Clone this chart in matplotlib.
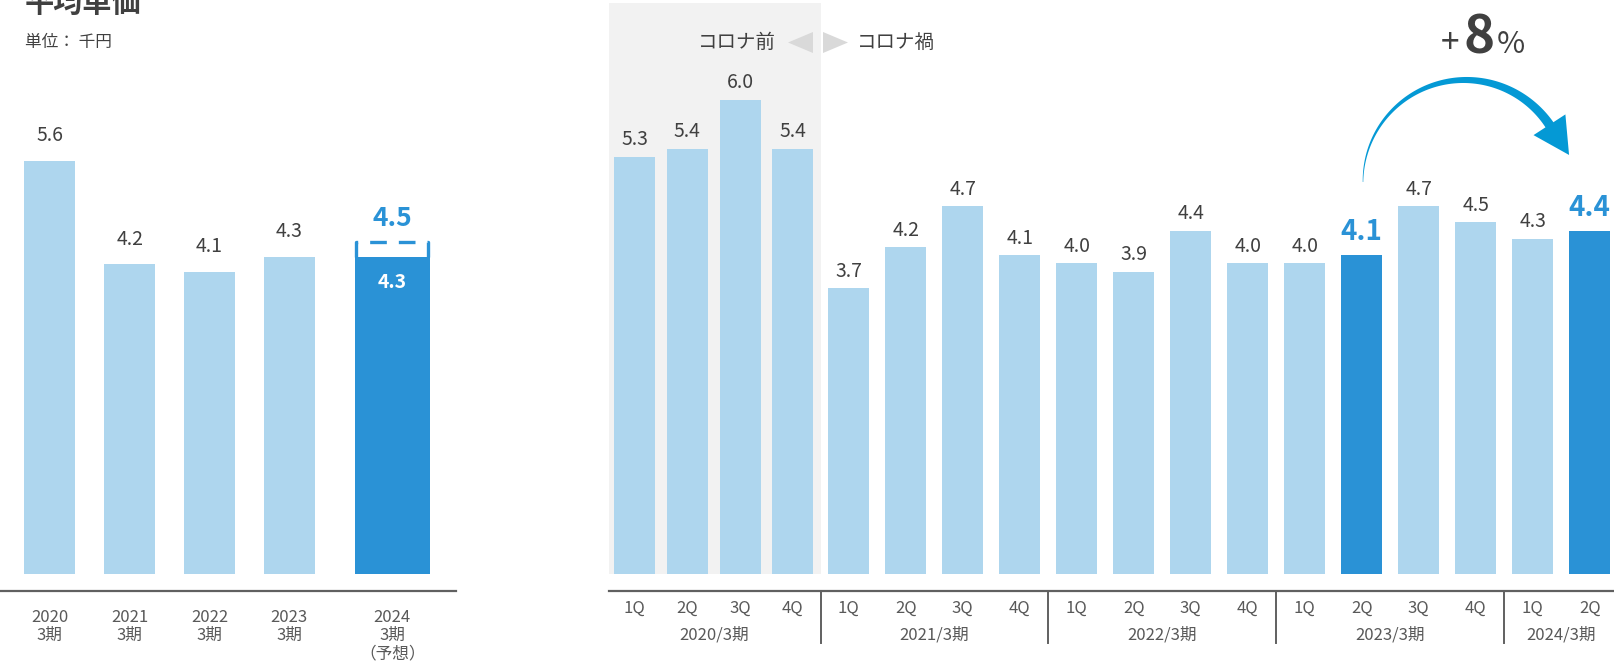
import matplotlib
matplotlib.use("Agg")
import matplotlib.pyplot as plt
from matplotlib.patches import Rectangle, Polygon
from matplotlib.transforms import blended_transform_factory
import numpy as np

# ---------------- data ----------------
left_categories = ["2020\n3期", "2021\n3期", "2022\n3期", "2023\n3期", "2024\n3期\n（予想）"]
left_values = [5.6, 4.2, 4.1, 4.3, 4.3]
left_forecast = 4.5

quarter_labels = ["1Q", "2Q", "3Q", "4Q"] * 4 + ["1Q", "2Q"]
fiscal_years = ["2020/3期", "2021/3期", "2022/3期", "2023/3期", "2024/3期"]
right_values = [5.3, 5.4, 6.0, 5.4,
                3.7, 4.2, 4.7, 4.1,
                4.0, 3.9, 4.4, 4.0,
                4.0, 4.1, 4.7, 4.5,
                4.3, 4.4]
right_highlight = [13, 17]

title = "平均単価"
unit_text = "単位： 千円"
pre_label = "コロナ前"
post_label = "コロナ禍"
growth_parts = ["+", "8", "%"]

# ---------------- style ----------------
plt.rcParams['font.family'] = ['Noto Sans CJK JP', 'DejaVu Sans']
LIGHT = '#aed6ee'
DARK = '#2a92d6'
TXT = '#404040'
TICK = '#595959'
AXC = '#606060'

W, H = 1614, 663
fig = plt.figure(figsize=(W / 100, H / 100), dpi=100)


def fig_rect(x0, y0, x1, y1):
    return [x0 / W, 1 - y1 / H, (x1 - x0) / W, (y1 - y0) / H]


AXIS_Y = 591
BASE_Y = 574

# ---------------- left chart ----------------
L_UNIT, L_X0, L_SCALE = 79.8, 49.9, 73.7
axL = fig.add_axes(fig_rect(0, 0, 456, AXIS_Y))
axL.set_xlim(-L_X0 / L_UNIT, (456 - L_X0) / L_UNIT)
axL.set_ylim(-(AXIS_Y - BASE_Y) / L_SCALE, BASE_Y / L_SCALE)
axL.patch.set_alpha(0)

n_left = len(left_values)
left_pos = [float(i) for i in range(n_left - 1)] + [n_left - 1 + 0.29]
left_w = [0.64] * (n_left - 1) + [0.94]
left_col = [LIGHT] * (n_left - 1) + [DARK]
axL.bar(left_pos, left_values, width=left_w, color=left_col, zorder=2)

for i in range(n_left - 1):
    axL.annotate(f"{left_values[i]:.1f}", (left_pos[i], left_values[i]),
                 xytext=(0, 18.3), textcoords='offset points',
                 ha='center', va='center', fontsize=14, color=TXT)

# forecast (last bar)
xl = left_pos[-1] - left_w[-1] / 2 + 0.02
xr = left_pos[-1] + left_w[-1] / 2 - 0.02
axL.plot([xl, xl, xr, xr], [left_values[-1], left_forecast, left_forecast, left_values[-1]],
         color=DARK, lw=2.4, ls=(0, (5.0, 3.6)), solid_capstyle='butt',
         dash_capstyle='butt', zorder=3, clip_on=False)
axL.annotate(f"{left_forecast:.1f}", (left_pos[-1], left_forecast),
             xytext=(0, 17.5), textcoords='offset points',
             ha='center', va='center', fontsize=19, color=DARK, fontweight='bold')
axL.annotate(f"{left_values[-1]:.1f}", (left_pos[-1], left_values[-1]),
             xytext=(0, -18), textcoords='offset points',
             ha='center', va='center', fontsize=14, color='white', fontweight='bold')

for s in ['top', 'right', 'left']:
    axL.spines[s].set_visible(False)
axL.spines['bottom'].set_color(AXC)
axL.spines['bottom'].set_linewidth(1.6)
axL.set_xticks([])
axL.set_yticks([])

tL = blended_transform_factory(axL.transData, fig.transFigure)
for i, cat in enumerate(left_categories):
    for k, line in enumerate(cat.split("\n")):
        axL.text(left_pos[i], 1 - (617 + 18.5 * k) / H, line, transform=tL,
                 ha='center', va='center', fontsize=12, color=TICK)

# ---------------- right chart ----------------
# value axis starts at the axis line; bars leave a small white band above it
R_UNIT, R_X0, R_SCALE = 57.0, 634.6, 81.9
GAP = (AXIS_Y - BASE_Y) / R_SCALE
axR = fig.add_axes(fig_rect(609, 0, W, AXIS_Y))
axR.set_xlim((609 - R_X0) / R_UNIT, (W - R_X0) / R_UNIT)
axR.set_ylim(0, AXIS_Y / R_SCALE)
axR.patch.set_alpha(0)

n_right = len(right_values)
right_pos = [i * 0.925 if i < 4 else 3.756 + (i - 4) for i in range(n_right)]
right_col = [DARK if i in right_highlight else LIGHT for i in range(n_right)]
right_arr = np.array(right_values)

# pre-covid shaded region
sep_first = (right_pos[3] + right_pos[4]) / 2
x_left = axR.get_xlim()[0]
axR.add_patch(Rectangle((x_left, GAP), sep_first - x_left, (AXIS_Y - 3) / R_SCALE - GAP,
                        facecolor='#f2f2f2', edgecolor='none', zorder=0, clip_on=False))

axR.bar(right_pos, right_arr - GAP, bottom=GAP, width=0.72, color=right_col, zorder=2)

for i, v in enumerate(right_values):
    if i in right_highlight:
        axR.annotate(f"{v:.1f}", (right_pos[i], v), xytext=(0, 16.5),
                     textcoords='offset points', ha='center', va='center',
                     fontsize=20, color=DARK, fontweight='bold')
    else:
        axR.annotate(f"{v:.1f}", (right_pos[i], v), xytext=(0, 12.2),
                     textcoords='offset points', ha='center', va='center',
                     fontsize=14, color=TXT)

for s in ['top', 'right', 'left']:
    axR.spines[s].set_visible(False)
axR.spines['bottom'].set_color(AXC)
axR.spines['bottom'].set_linewidth(1.6)
axR.set_xticks([])
axR.set_yticks([])

tR = blended_transform_factory(axR.transData, fig.transFigure)
for i, q in enumerate(quarter_labels):
    axR.text(right_pos[i], 1 - 608 / H, q, transform=tR,
             ha='center', va='center', fontsize=12, color=TICK)

groups = [list(range(g * 4, min(g * 4 + 4, n_right))) for g in range(len(fiscal_years))]
for g, idx in enumerate(groups):
    center = np.mean([right_pos[i] for i in idx])
    axR.text(center, 1 - 635 / H, fiscal_years[g], transform=tR,
             ha='center', va='center', fontsize=12, color=TICK)
    if g > 0:
        sep = (right_pos[idx[0] - 1] + right_pos[idx[0]]) / 2
        axR.plot([sep, sep], [1 - AXIS_Y / H, 1 - 643 / H], transform=tR,
                 color=AXC, lw=1.4, clip_on=False)

# ---------------- overlay (pixel coordinates, y down) ----------------
ov = fig.add_axes([0, 0, 1, 1], zorder=10)
ov.set_xlim(0, W)
ov.set_ylim(H, 0)
ov.axis('off')
ov.patch.set_alpha(0)

ov.text(25, 3, title, ha='left', va='center', fontsize=21, fontweight='bold', color=TXT)
ov.text(25, 43, unit_text, ha='left', va='center', fontsize=12, color=TXT)

ov.text(776, 42, pre_label, ha='right', va='center', fontsize=14, color=TXT)
ov.text(857, 42, post_label, ha='left', va='center', fontsize=14, color=TXT)
ov.add_patch(Polygon([[788, 42.5], [813, 32], [813, 53]], closed=True,
                     facecolor='#d9d9d9', edgecolor='none'))
ov.add_patch(Polygon([[848, 42.5], [823, 32], [823, 53]], closed=True,
                     facecolor='#d9d9d9', edgecolor='none'))

# growth text
ov.text(1450, 53, growth_parts[0], ha='center', va='baseline', fontsize=24, color=TXT)
ov.text(1479, 54, growth_parts[1], ha='center', va='baseline', fontsize=38,
        fontweight='bold', color=TXT)
ov.text(1511, 53, growth_parts[2], ha='center', va='baseline', fontsize=22, color=TXT)

# curved arrow
ARC = '#0499d5'
cx, cy, r = 1465, 182, 102
th_end = 33
th = np.radians(np.linspace(180, th_end, 150))
wv = np.linspace(0.5, 9.5, 150)
outer = np.column_stack([cx + (r + wv / 2) * np.cos(th), cy - (r + wv / 2) * np.sin(th)])
inner = np.column_stack([cx + (r - wv / 2) * np.cos(th), cy - (r - wv / 2) * np.sin(th)])
ov.add_patch(Polygon(np.vstack([outer, inner[::-1]]), closed=True,
                     facecolor=ARC, edgecolor='none'))
te = np.radians(th_end)
E = np.array([cx + r * np.cos(te), cy - r * np.sin(te)])
d = np.array([np.sin(te), np.cos(te)])
perp = np.array([np.cos(te), -np.sin(te)])
ov.add_patch(Polygon([E + 19 * perp - 2 * d, E + 34 * d, E - 19 * perp - 2 * d], closed=True,
                     facecolor=ARC, edgecolor='none'))

fig.savefig("out.png", dpi=100)
